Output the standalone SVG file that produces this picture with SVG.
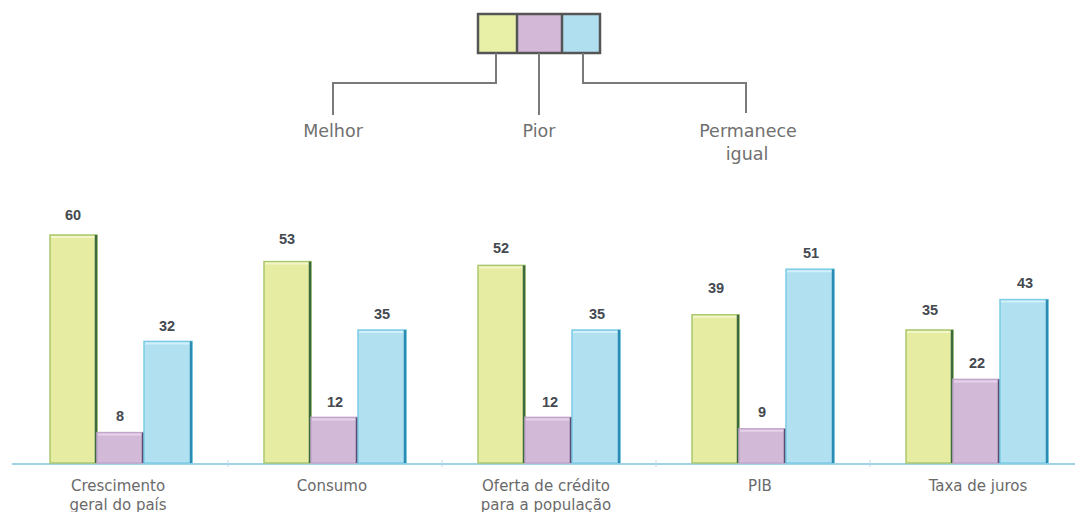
<svg xmlns="http://www.w3.org/2000/svg" width="1075" height="512" viewBox="0 0 1075 512">
<style>
.lg{font-family:"DejaVu Sans","Liberation Sans",sans-serif;font-size:17.5px;fill:#707070;text-anchor:middle}
.cat{font-family:"DejaVu Sans","Liberation Sans",sans-serif;font-size:15px;fill:#6a6a6a;text-anchor:middle}
.val{font-family:"Liberation Sans",Arial,sans-serif;font-size:14.5px;font-weight:bold;fill:#454a50;text-anchor:middle}
.conn{fill:none;stroke:#7a7a7a;stroke-width:2}
.y{fill:#e7eca3;stroke:#a9c76e;stroke-width:1.5}
.p{fill:#d3b9d8;stroke:#c3a6cc;stroke-width:1.5}
.b{fill:#b1e0f1;stroke:#7ccbe6;stroke-width:1.5}
.ye{stroke:#3c6a3e;stroke-width:2.5}
.pe{stroke:#5b4d72;stroke-width:2.5}
.be{stroke:#2b8cb3;stroke-width:2.5}
.yt{stroke:#f3f6c8;stroke-width:2}
.pt{stroke:#e6d3ea;stroke-width:2}
.bt{stroke:#d2f0fa;stroke-width:2}
</style>
<rect width="1075" height="512" fill="#ffffff"/>

<g id="legend">
  <rect x="478" y="14" width="39" height="39" fill="#e8f0a8"/>
  <rect x="517" y="14" width="45" height="39" fill="#d4b8d8"/>
  <rect x="562" y="14" width="38" height="39" fill="#b0e0f0"/>
  <rect x="478" y="14" width="122" height="39" fill="none" stroke="#555" stroke-width="2.5"/>
  <line x1="517" y1="14" x2="517" y2="53" stroke="#555" stroke-width="2.5"/>
  <line x1="562" y1="14" x2="562" y2="53" stroke="#555" stroke-width="2.5"/>
</g>

<g id="connectors">
  <polyline class="conn" points="496,53 496,83 333,83 333,115"/>
  <polyline class="conn" points="539,53 539,115"/>
  <polyline class="conn" points="583,53 583,83 746,83 746,113"/>
</g>

<g id="label-melhor"><text class="lg" x="333" y="137">Melhor</text></g>
<g id="label-pior"><text class="lg" x="539" y="137">Pior</text></g>
<g id="label-permanece"><text class="lg" x="748" y="137">Permanece</text><text class="lg" x="747" y="160">igual</text></g>

<g id="axis">
  <line x1="12" y1="464" x2="1075" y2="464" stroke="#7fc3df" stroke-width="1.5"/>
  <line x1="228" y1="460" x2="228" y2="467" stroke="#b8d8e6" stroke-width="1"/>
  <line x1="442" y1="460" x2="442" y2="467" stroke="#b8d8e6" stroke-width="1"/>
  <line x1="656" y1="460" x2="656" y2="467" stroke="#b8d8e6" stroke-width="1"/>
  <line x1="870" y1="460" x2="870" y2="467" stroke="#b8d8e6" stroke-width="1"/>
</g>

<g id="cat-crescimento">
  <rect class="y" x="50" y="235" width="47" height="228"/>
  <line class="yt" x1="51" y1="237" x2="95" y2="237"/>
  <line class="ye" x1="96" y1="235" x2="96" y2="463"/>
  <rect class="p" x="97" y="432.6" width="47" height="30.4"/>
  <line class="pt" x1="98" y1="434.6" x2="142" y2="434.6"/>
  <line class="pe" x1="143" y1="432.6" x2="143" y2="463"/>
  <rect class="b" x="144" y="341.4" width="48" height="121.6"/>
  <line class="bt" x1="145" y1="343.4" x2="190" y2="343.4"/>
  <line class="be" x1="191" y1="341.4" x2="191" y2="463"/>
  <text class="val" x="73" y="220">60</text>
  <text class="val" x="120" y="421">8</text>
  <text class="val" x="167" y="331">32</text>
  <text class="cat" x="118" y="491">Crescimento</text>
  <text class="cat" x="118" y="510">geral do país</text>
</g>

<g id="cat-consumo">
  <rect class="y" x="264" y="261.6" width="47" height="201.4"/>
  <line class="yt" x1="265" y1="263.6" x2="309" y2="263.6"/>
  <line class="ye" x1="310" y1="261.6" x2="310" y2="463"/>
  <rect class="p" x="311" y="417.4" width="47" height="45.6"/>
  <line class="pt" x1="312" y1="419.4" x2="356" y2="419.4"/>
  <line class="pe" x1="357" y1="417.4" x2="357" y2="463"/>
  <rect class="b" x="358" y="330" width="48" height="133"/>
  <line class="bt" x1="359" y1="332" x2="404" y2="332"/>
  <line class="be" x1="405" y1="330" x2="405" y2="463"/>
  <text class="val" x="287" y="244">53</text>
  <text class="val" x="335" y="407">12</text>
  <text class="val" x="382" y="319">35</text>
  <text class="cat" x="332" y="491">Consumo</text>
</g>

<g id="cat-oferta">
  <rect class="y" x="478" y="265.4" width="47" height="197.6"/>
  <line class="yt" x1="479" y1="267.4" x2="523" y2="267.4"/>
  <line class="ye" x1="524" y1="265.4" x2="524" y2="463"/>
  <rect class="p" x="525" y="417.4" width="47" height="45.6"/>
  <line class="pt" x1="526" y1="419.4" x2="570" y2="419.4"/>
  <line class="pe" x1="571" y1="417.4" x2="571" y2="463"/>
  <rect class="b" x="572" y="330" width="48" height="133"/>
  <line class="bt" x1="573" y1="332" x2="618" y2="332"/>
  <line class="be" x1="619" y1="330" x2="619" y2="463"/>
  <text class="val" x="501" y="253">52</text>
  <text class="val" x="550" y="407">12</text>
  <text class="val" x="597" y="319">35</text>
  <text class="cat" x="546" y="491">Oferta de crédito</text>
  <text class="cat" x="546" y="510">para a população</text>
</g>

<g id="cat-pib">
  <rect class="y" x="692" y="314.8" width="47" height="148.2"/>
  <line class="yt" x1="693" y1="316.8" x2="737" y2="316.8"/>
  <line class="ye" x1="738" y1="314.8" x2="738" y2="463"/>
  <rect class="p" x="739" y="428.8" width="47" height="34.2"/>
  <line class="pt" x1="740" y1="430.8" x2="784" y2="430.8"/>
  <line class="pe" x1="785" y1="428.8" x2="785" y2="463"/>
  <rect class="b" x="786" y="269.2" width="48" height="193.8"/>
  <line class="bt" x1="787" y1="271.2" x2="832" y2="271.2"/>
  <line class="be" x1="833" y1="269.2" x2="833" y2="463"/>
  <text class="val" x="716" y="293">39</text>
  <text class="val" x="762" y="417">9</text>
  <text class="val" x="811" y="258">51</text>
  <text class="cat" x="760" y="491">PIB</text>
</g>

<g id="cat-taxa">
  <rect class="y" x="906" y="330" width="47" height="133"/>
  <line class="yt" x1="907" y1="332" x2="951" y2="332"/>
  <line class="ye" x1="952" y1="330" x2="952" y2="463"/>
  <rect class="p" x="953" y="379.4" width="47" height="83.6"/>
  <line class="pt" x1="954" y1="381.4" x2="998" y2="381.4"/>
  <line class="pe" x1="999" y1="379.4" x2="999" y2="463"/>
  <rect class="b" x="1000" y="299.6" width="48" height="163.4"/>
  <line class="bt" x1="1001" y1="301.6" x2="1046" y2="301.6"/>
  <line class="be" x1="1047" y1="299.6" x2="1047" y2="463"/>
  <text class="val" x="930" y="315">35</text>
  <text class="val" x="977" y="368">22</text>
  <text class="val" x="1025" y="288">43</text>
  <text class="cat" x="978" y="491">Taxa de juros</text>
</g>
</svg>
